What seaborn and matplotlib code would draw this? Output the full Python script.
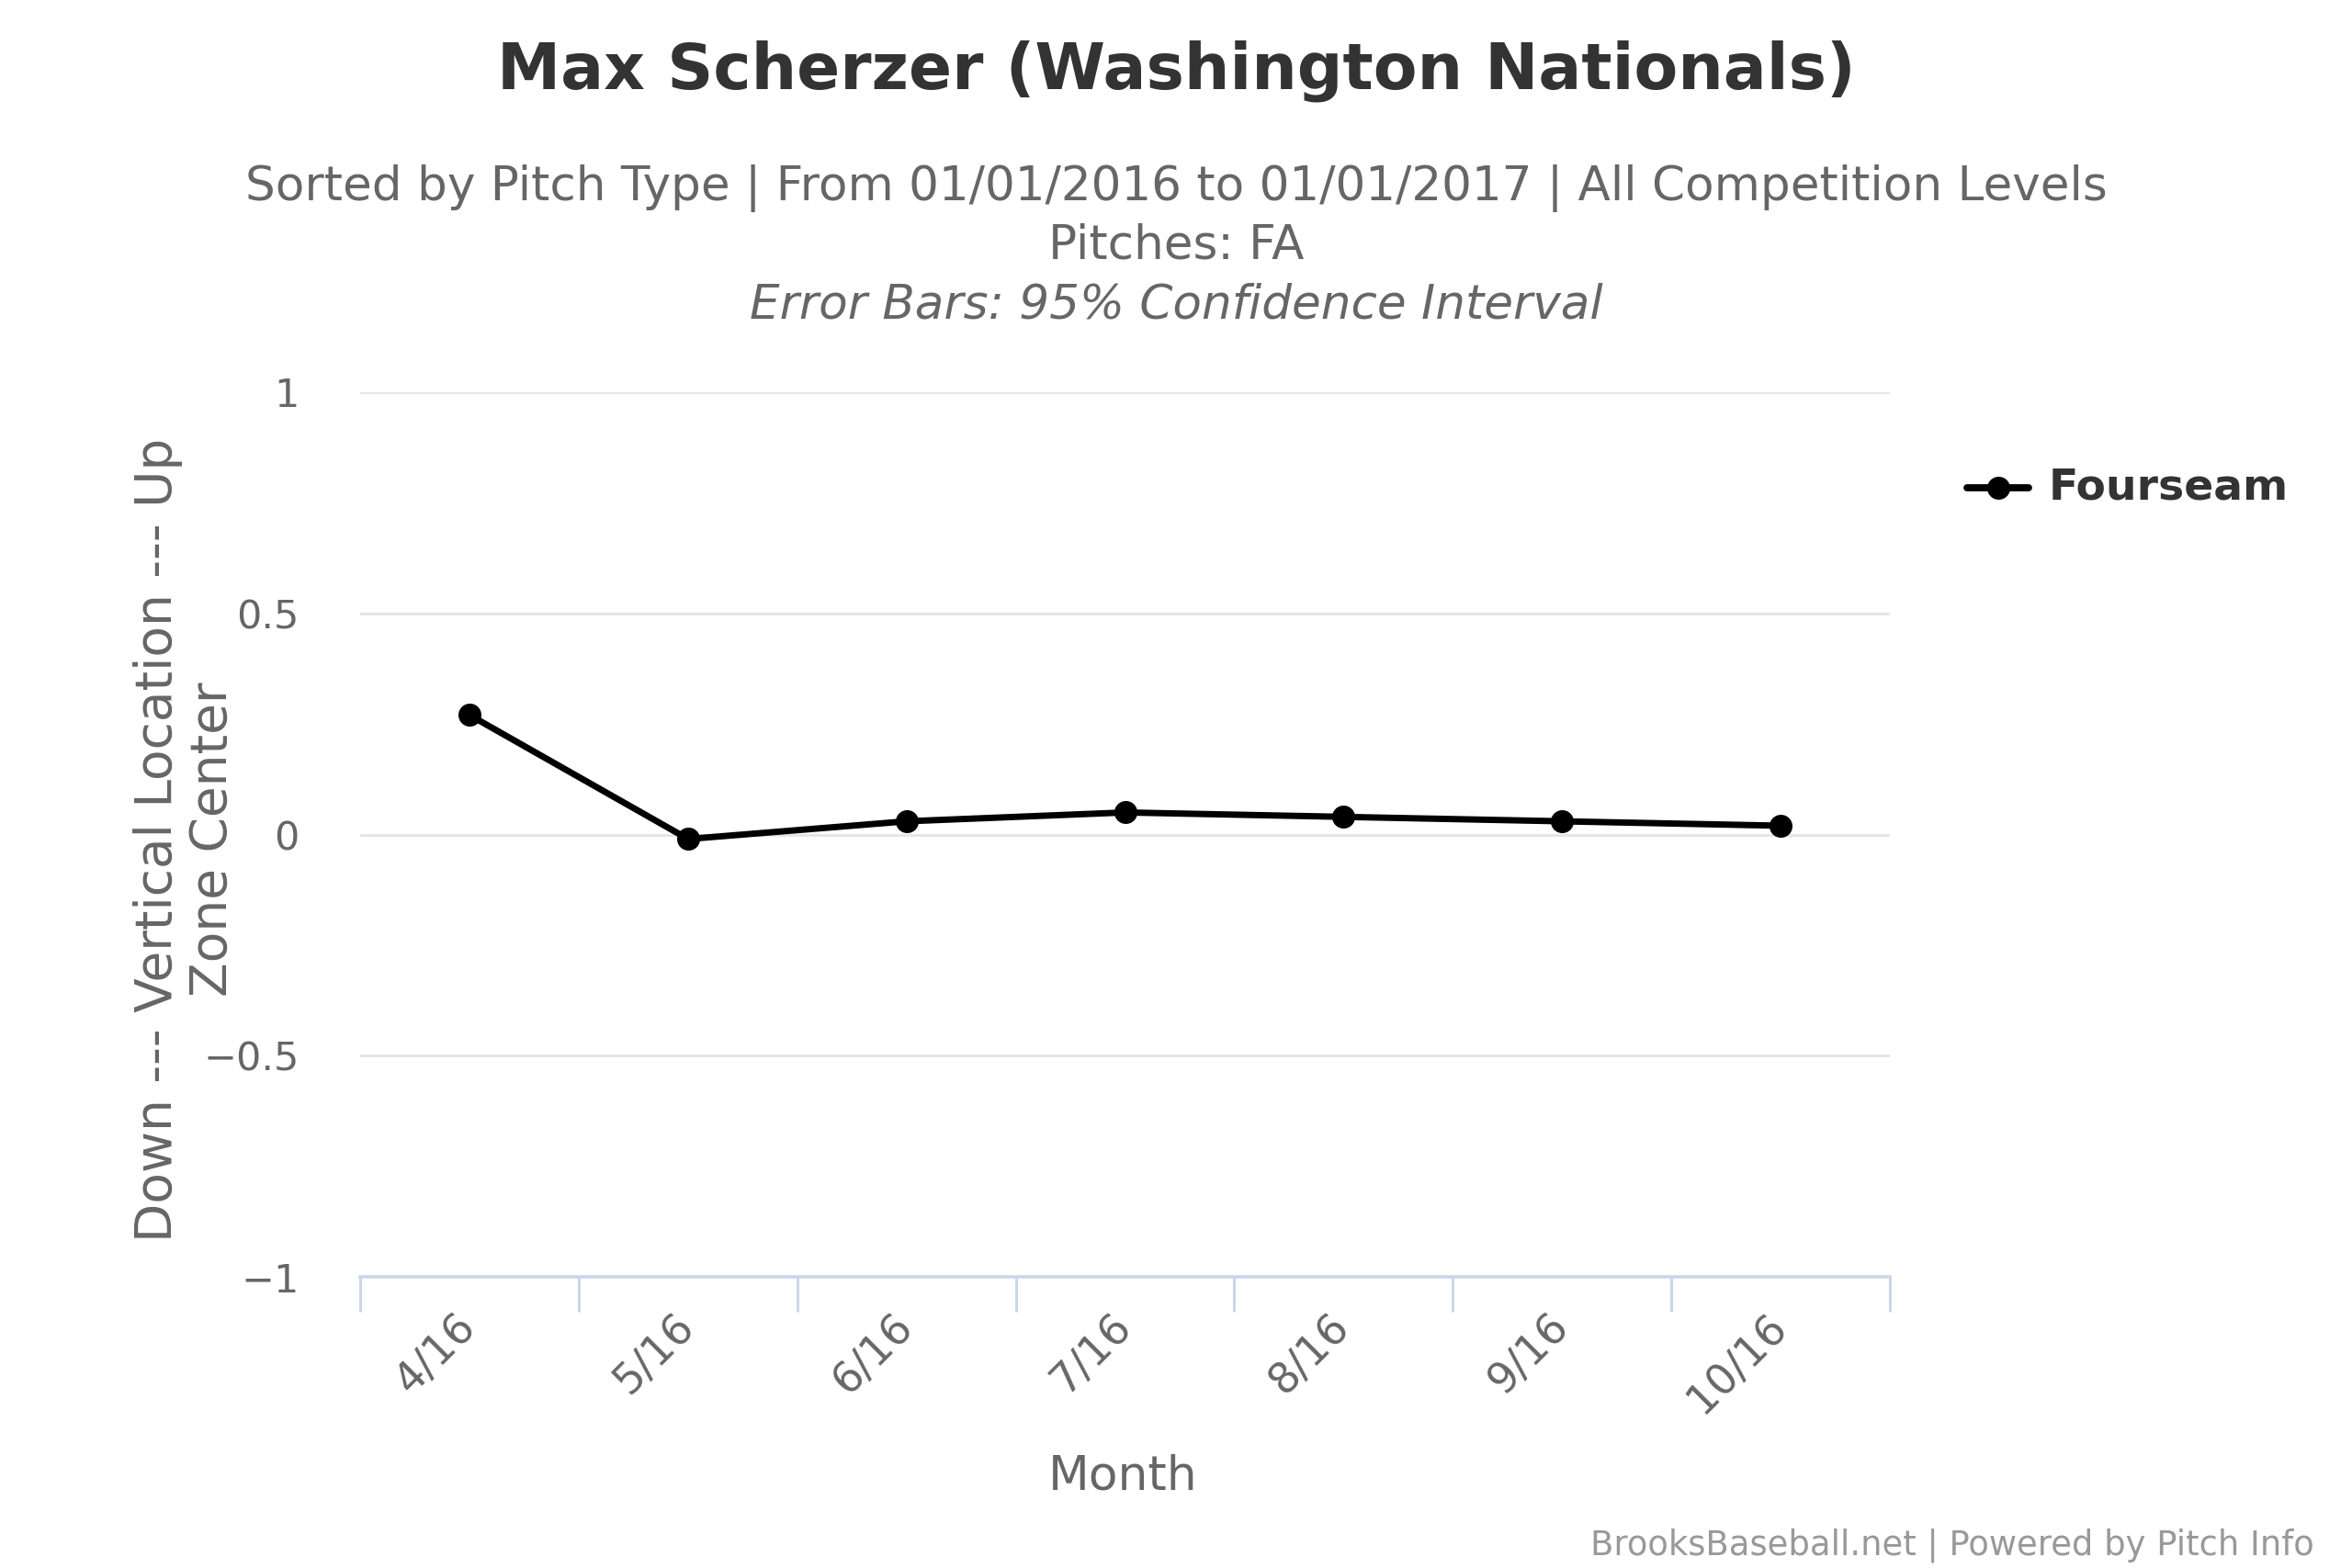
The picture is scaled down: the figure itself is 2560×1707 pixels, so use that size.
import numpy as np
import pandas as pd
import matplotlib
matplotlib.use("Agg")
import matplotlib.pyplot as plt
import seaborn as sns

# -----------------------------------
# DATA
# -----------------------------------

months = ["4/16", "5/16", "6/16", "7/16", "8/16", "9/16", "10/16"]
fourseam = [0.27, -0.01, 0.03, 0.05, 0.04, 0.03, 0.02]
y_ticks = [-1, -0.5, 0, 0.5, 1]
y_tick_labels = ["\u22121", "\u22120.5", "0", "0.5", "1"]

title = "Max Scherzer (Washington Nationals)"
subtitle_lines = [
    "Sorted by Pitch Type | From 01/01/2016 to 01/01/2017 | All Competition Levels",
    "Pitches: FA",
]
subtitle_italic = "Error Bars: 95% Confidence Interval"
credits = "BrooksBaseball.net | Powered by Pitch Info"

df = pd.DataFrame({"Month": months, "Fourseam": fourseam})

# -----------------------------------
# STYLE
# -----------------------------------

sns.set_theme(style="white")
plt.rcParams["font.family"] = ["DejaVu Sans"]

DARK = "#333333"
MID = "#666666"
LIGHT = "#999999"
GRID = "#e6e6e6"
AXIS = "#ccd6eb"

fig = plt.figure(figsize=(12.8, 8.535), dpi=200)
ax = fig.add_axes([0.1532, 0.1855, 0.8035 - 0.1532, 0.750 - 0.1855])

sns.lineplot(
    data=df,
    x="Month",
    y="Fourseam",
    color="black",
    linewidth=2.5,
    marker="o",
    markersize=9,
    markeredgewidth=0,
    ax=ax,
    legend=False,
)

ax.set_xlim(-0.5, len(months) - 0.5)
ax.set_ylim(-1, 1)

# grid lines (highcharts style)
for v in y_ticks[1:]:
    ax.axhline(v, color=GRID, linewidth=1.1, zorder=0)

for side in ["top", "right", "left"]:
    ax.spines[side].set_visible(False)
ax.spines["bottom"].set_color(AXIS)
ax.spines["bottom"].set_linewidth(1.3)

ax.set_yticks(y_ticks)
ax.set_yticklabels(y_tick_labels, color=MID, fontsize=15.5)
ax.tick_params(axis="y", length=0, pad=24)

ax.set_xticks(range(len(months)))
ax.set_xticklabels(months, rotation=45, ha="right", va="center",
                   rotation_mode="anchor", color=MID, fontsize=16.5)
ax.tick_params(axis="x", which="major", bottom=True, length=0, pad=17)
ax.set_xticks(np.arange(-0.5, len(months)), minor=True)
ax.tick_params(axis="x", which="minor", bottom=True, length=13.5,
               width=1.1, color=AXIS)

ax.set_xlabel("")
ax.set_ylabel("")

# -----------------------------------
# TEXT
# -----------------------------------

fig.text(0.5, 0.955, title, ha="center", va="center",
         fontsize=25, fontweight="bold", color=DARK)
fig.text(0.5, 0.880, subtitle_lines[0], ha="center", va="center",
         fontsize=18.6, color=MID)
fig.text(0.5, 0.843, subtitle_lines[1], ha="center", va="center",
         fontsize=18.6, color=MID)
fig.text(0.5, 0.805, subtitle_italic, ha="center", va="center",
         fontsize=18.6, color=MID, style="italic")

fig.text(0.067, 0.4646, "Down --- Vertical Location --- Up", rotation=90,
         ha="center", va="center", fontsize=19.8, color=MID)
fig.text(0.0905, 0.4646, "Zone Center", rotation=90,
         ha="center", va="center", fontsize=19.8, color=MID)

fig.text(0.4775, 0.058, "Month", ha="center", va="center",
         fontsize=18.7, color=MID)

fig.text(0.984, 0.0144, credits, ha="right", va="center",
         fontsize=13.3, color=LIGHT)

# legend
fig.lines.append(plt.Line2D([0.8365, 0.8625], [0.689, 0.689],
                            transform=fig.transFigure, color="black",
                            linewidth=2.8))
fig.lines.append(plt.Line2D([0.8495], [0.689], transform=fig.transFigure,
                            color="black", marker="o", markersize=9,
                            markeredgewidth=0))
fig.text(0.871, 0.689, "Fourseam", ha="left", va="center",
         fontsize=17, fontweight="bold", color=DARK)

plt.savefig("out.png", dpi=200, facecolor="white")
